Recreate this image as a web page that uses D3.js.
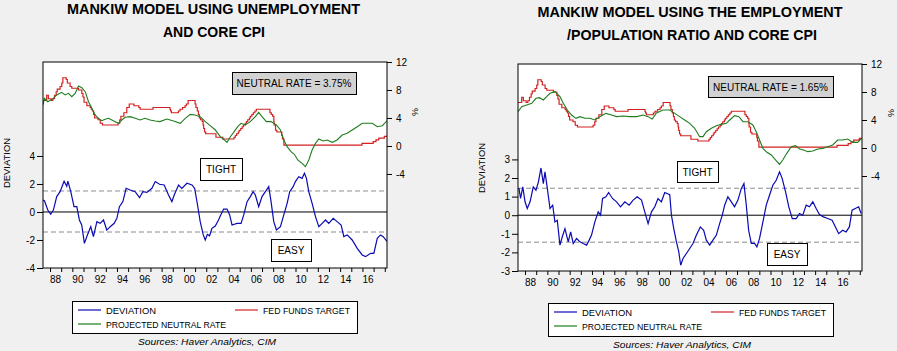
<!DOCTYPE html>
<html>
<head>
<meta charset="utf-8">
<script src="https://cdn.jsdelivr.net/npm/d3@7"></script>
<style>
  body { margin: 0; background: #f0f0f0; }
  svg { display: block; font-family: "Liberation Sans", Arial, sans-serif; }
  .axis text { font-size: 10px; fill: #000; }
  .axis line { stroke: #000; }
</style>
</head>
<body>
<svg id="chart" width="897" height="351"></svg>
<script>
// ---- data (decimal year, value) ----
const xDomain = [1987.37, 2018.2];
const yearTicks = d3.range(1988, 2019);
const xLabelYears = d3.range(1988, 2017, 2);
const xTickLabels = ["88", "90", "92", "94", "96", "98", "00", "02", "04", "06", "08", "10", "12", "14", "16"];
const rateTicks = [-4, 0, 4, 8, 12];
const devTicksUnemp = [-4, -2, 0, 2, 4];
const devTicksEpop = [-3, -2, -1, 0, 1, 2, 3];
const seriesNames = ["DEVIATION", "FED FUNDS TARGET", "PROJECTED NEUTRAL RATE"];

// fed funds target: change dates and the new level
const fedFunds = [
  [1987.37, 6.5], [1987.7, 7.25], [1987.85, 6.75], [1988.1, 6.5], [1988.25, 6.75],
  [1988.4, 7.25], [1988.55, 7.75], [1988.65, 8.125], [1988.9, 8.5], [1989.05, 9.0],
  [1989.15, 9.75], [1989.45, 9.5], [1989.55, 9.0], [1989.8, 8.5], [1989.95, 8.25],
  [1990.55, 8.0], [1990.85, 7.5], [1990.95, 7.0], [1991.05, 6.25], [1991.3, 5.75],
  [1991.6, 5.5], [1991.7, 5.25], [1991.8, 5.0], [1991.9, 4.5], [1992.0, 4.0],
  [1992.3, 3.75], [1992.5, 3.25], [1992.7, 3.0], [1994.1, 3.25], [1994.25, 3.75],
  [1994.35, 4.25], [1994.62, 4.75], [1994.88, 5.5], [1995.1, 6.0], [1995.52, 5.75],
  [1995.96, 5.5], [1996.08, 5.25], [1997.23, 5.5], [1998.75, 5.25], [1998.8, 5.0],
  [1998.88, 4.75], [1999.5, 5.0], [1999.65, 5.25], [1999.88, 5.5], [2000.1, 5.75],
  [2000.22, 6.0], [2000.38, 6.5], [2001.0, 6.0], [2001.08, 5.5], [2001.2, 5.0],
  [2001.3, 4.5], [2001.38, 4.0], [2001.49, 3.75], [2001.64, 3.5], [2001.72, 3.0],
  [2001.77, 2.5], [2001.85, 2.0], [2001.95, 1.75], [2002.87, 1.25], [2003.49, 1.0],
  [2004.49, 1.25], [2004.61, 1.5], [2004.72, 1.75], [2004.87, 2.0], [2004.95, 2.25],
  [2005.09, 2.5], [2005.22, 2.75], [2005.34, 3.0], [2005.49, 3.25], [2005.61, 3.5],
  [2005.72, 3.75], [2005.87, 4.0], [2005.95, 4.25], [2006.09, 4.5], [2006.22, 4.75],
  [2006.36, 5.0], [2006.49, 5.25], [2007.71, 4.75], [2007.83, 4.5], [2007.95, 4.25],
  [2008.06, 3.5], [2008.08, 3.0], [2008.21, 2.25], [2008.33, 2.0], [2008.77, 1.5],
  [2008.83, 1.0], [2008.96, 0.125], [2015.96, 0.375], [2016.96, 0.625], [2017.21, 0.875],
  [2017.46, 1.125], [2017.96, 1.375], [2018.2, 1.375],
];

const neutralUnemp = [
  [1987.37, 5.86], [1987.5, 6.8], [1987.8, 6.33], [1988.3, 6.8], [1988.6, 7.3],
  [1989.05, 7.67], [1989.35, 7.3], [1989.65, 7.52], [1989.95, 7.05], [1990.25, 7.52],
  [1990.55, 8.57], [1990.85, 8.33], [1991.15, 7.76], [1991.45, 6.33], [1991.75, 5.38],
  [1992.04, 4.43], [1992.34, 3.95], [1992.64, 3.62], [1992.94, 3.81], [1993.24, 3.95],
  [1993.54, 3.71], [1993.84, 3.48], [1994.13, 3.24], [1994.43, 3.71], [1994.73, 4.1],
  [1995.18, 4.19], [1995.63, 3.95], [1996.08, 3.71], [1996.5, 3.95], [1996.97, 3.71],
  [1997.43, 3.57], [1997.85, 3.48], [1998.47, 3.86], [1999.07, 3.57], [1999.67, 3.24],
  [2000.12, 3.95], [2000.57, 4.52], [2001.0, 4.43], [2001.46, 4.19], [2001.91, 3.48],
  [2002.36, 2.9], [2002.81, 2.29], [2003.26, 1.33], [2003.6, 0.9], [2003.86, 0.52],
  [2004.16, 1.33], [2004.46, 1.95], [2004.82, 2.76], [2005.12, 3.24], [2005.5, 3.0],
  [2005.95, 3.48], [2006.4, 4.19], [2006.7, 4.81], [2007.0, 4.19], [2007.39, 3.48],
  [2007.81, 3.48], [2008.29, 3.0], [2008.65, 2.29], [2008.95, 0.86], [2009.25, -0.1],
  [2009.6, -0.81], [2009.9, -1.19], [2010.2, -2.0], [2010.59, -2.48], [2010.89, -2.95],
  [2011.19, -2.0], [2011.49, -0.57], [2011.79, 0.38], [2012.09, 1.0], [2012.48, 0.71],
  [2012.84, 0.86], [2013.29, 0.52], [2013.73, 0.86], [2014.18, 1.57], [2014.63, 1.81],
  [2015.08, 2.29], [2015.53, 2.76], [2015.98, 3.24], [2016.43, 3.24], [2016.88, 3.24],
  [2017.33, 2.76], [2017.78, 2.9], [2018.2, 3.6],
];

const devUnemp = [
  [1987.37, 0.86], [1987.5, 0.8], [1987.8, 0.14], [1988.06, -0.16], [1988.3, 0.14],
  [1988.6, 1.1], [1988.9, 1.45], [1989.26, 2.2], [1989.5, 1.83], [1989.6, 2.2],
  [1989.86, 1.45], [1990.15, 0.38], [1990.4, 0.38], [1990.63, -0.57], [1990.84, -0.93],
  [1991.08, -2.24], [1991.35, -1.64], [1991.65, -1.05], [1991.89, -1.76], [1992.2, -0.69],
  [1992.49, -0.81], [1992.79, -0.57], [1993.09, -1.29], [1993.39, -1.05], [1993.75, -0.81],
  [1993.99, -0.45], [1994.22, 0.38], [1994.53, 0.74], [1994.82, 1.69], [1995.18, 1.57],
  [1995.63, 1.45], [1996.02, 1.02], [1996.32, 1.45], [1996.68, 1.4], [1997.13, 1.69],
  [1997.43, 2.17], [1997.81, 1.98], [1998.23, 1.93], [1998.62, 1.21], [1998.92, 0.74],
  [1999.13, 1.21], [1999.52, 1.93], [1999.82, 1.69], [2000.27, 2.05], [2000.72, 1.93],
  [2000.96, 1.69], [2001.22, 0.5], [2001.46, -0.69], [2001.72, -1.6], [2001.91, -2.0],
  [2002.1, -1.6], [2002.3, -1.7], [2002.51, -1.17], [2002.81, -1.0], [2003.1, -0.57],
  [2003.3, -0.21], [2003.56, 0.21], [2003.86, 0.21], [2004.1, -0.21], [2004.31, -0.93],
  [2004.76, -0.81], [2005.12, -0.81], [2005.36, -0.21], [2005.66, 0.74], [2005.95, 1.1],
  [2006.2, 1.45], [2006.4, 1.21], [2006.7, 0.38], [2007.0, 1.1], [2007.3, 1.45],
  [2007.6, 1.81], [2007.81, 0.74], [2008.05, -0.69], [2008.29, -1.29], [2008.65, -1.05],
  [2008.95, -0.21], [2009.25, 0.62], [2009.48, 1.45], [2009.79, 1.81], [2009.99, 2.17],
  [2010.29, 2.52], [2010.59, 2.4], [2010.8, 2.76], [2010.98, 2.4], [2011.19, 1.45],
  [2011.49, 0.62], [2011.79, -0.33], [2012.09, -1.05], [2012.39, -0.81], [2012.69, -0.57],
  [2012.98, -0.81], [2013.38, -0.45], [2013.73, -0.69], [2014.09, -0.93], [2014.33, -1.76],
  [2014.63, -1.64], [2015.08, -2.0], [2015.53, -2.6], [2015.98, -3.07], [2016.28, -3.19],
  [2016.73, -2.95], [2017.02, -2.95], [2017.33, -1.88], [2017.62, -1.64], [2017.86, -1.76],
  [2018.2, -2.1],
];

const neutralEpop = [
  [1987.37, 5.19], [1987.7, 5.9], [1988.15, 6.14], [1988.6, 6.38], [1988.98, 7.1],
  [1989.28, 7.19], [1989.64, 6.86], [1989.94, 7.33], [1990.24, 7.81], [1990.68, 8.05],
  [1991.13, 7.33], [1991.43, 6.38], [1991.79, 5.43], [1992.18, 4.71], [1992.56, 4.24],
  [1992.92, 4.48], [1993.37, 4.24], [1993.81, 4.24], [1994.26, 4.0], [1994.71, 4.48],
  [1995.25, 4.95], [1995.75, 4.71], [1996.2, 4.48], [1996.79, 4.57], [1997.39, 4.48],
  [1997.99, 4.48], [1998.58, 4.71], [1999.03, 4.48], [1999.4, 4.14], [1999.78, 5.0],
  [2000.37, 5.43], [2000.97, 5.43], [2001.42, 4.95], [2001.86, 4.48], [2002.31, 4.0],
  [2002.76, 3.52], [2003.2, 2.81], [2003.65, 1.62], [2003.95, 1.62], [2004.25, 2.33],
  [2004.7, 2.81], [2005.15, 3.19], [2005.6, 3.38], [2006.04, 3.52], [2006.34, 4.0],
  [2006.78, 4.62], [2007.17, 4.48], [2007.53, 3.76], [2007.97, 3.76], [2008.42, 3.29],
  [2008.72, 2.33], [2009.02, 1.14], [2009.32, -0.05], [2009.68, -0.62], [2010.07, -1.0],
  [2010.45, -1.71], [2010.81, -2.33], [2011.1, -1.71], [2011.46, -0.76], [2011.86, 0.19],
  [2012.24, 0.33], [2012.6, -0.14], [2012.96, -0.29], [2013.34, -0.52], [2013.79, -0.43],
  [2014.24, -0.14], [2014.68, -0.05], [2015.13, 0.19], [2015.58, 0.43], [2016.02, 1.14],
  [2016.47, 1.14], [2016.92, 1.29], [2017.37, 0.81], [2017.81, 0.81], [2018.12, 1.29],
];

const devEpop = [
  [1987.37, 1.43], [1987.46, 1.43], [1987.6, 0.9], [1987.8, 1.52], [1988.0, 0.72],
  [1988.2, 0.36], [1988.45, 0.72], [1988.74, 1.52], [1988.98, 1.34], [1989.2, 1.79],
  [1989.43, 2.54], [1989.64, 1.7], [1989.79, 2.33], [1990.0, 1.43], [1990.24, 0.36],
  [1990.48, 0.54], [1990.68, -0.36], [1990.89, -0.27], [1991.13, -1.61], [1991.34, -1.16],
  [1991.58, -0.72], [1991.87, -1.43], [1992.09, -0.9], [1992.32, -1.52], [1992.62, -1.25],
  [1992.92, -1.43], [1993.21, -1.52], [1993.52, -1.61], [1993.75, -1.34], [1993.96, -1.07],
  [1994.26, -0.36], [1994.56, 0.18], [1994.77, 0], [1994.95, 0.9], [1995.25, 0.99],
  [1995.49, 1.22], [1995.84, 0.9], [1996.2, 0.72], [1996.56, 0.45], [1996.95, 0.72],
  [1997.33, 0.54], [1997.69, 0.81], [1998.05, 0.99], [1998.44, 0.81], [1998.73, 0.18],
  [1999.03, -0.45], [1999.33, 0.18], [1999.63, 0.45], [1999.92, 0.9], [2000.22, 0.72],
  [2000.52, 1.22], [2000.97, 1.1], [2001.12, 0], [2001.33, -0.72], [2001.57, -1.43],
  [2001.78, -1.97], [2001.95, -2.69], [2002.16, -2.33], [2002.46, -2.06], [2002.76, -1.79],
  [2003.05, -1.52], [2003.36, -1.07], [2003.71, -0.63], [2004.01, -0.81], [2004.25, -1.34],
  [2004.55, -1.61], [2004.84, -1.34], [2005.15, -1.07], [2005.44, -0.45], [2005.68, 0],
  [2005.89, 0.54], [2006.18, 0.99], [2006.49, 0.72], [2006.78, 0.45], [2007.08, 0.81],
  [2007.38, 1.43], [2007.62, 1.7], [2007.83, 0.54], [2008.04, -0.81], [2008.28, -1.52],
  [2008.57, -1.52], [2008.78, -1.7], [2009.02, -1.25], [2009.32, -0.36], [2009.62, 0.54],
  [2009.91, 1.07], [2010.21, 1.61], [2010.51, 1.88], [2010.81, 2.33], [2011.05, 1.97],
  [2011.35, 1.25], [2011.64, 0.45], [2011.95, -0.18], [2012.3, -0.18], [2012.6, 0.09],
  [2012.89, 0], [2013.2, 0.54], [2013.49, 0.45], [2013.79, 0.72], [2014.09, 0.36],
  [2014.39, 0.04], [2014.74, -0.09], [2015.13, -0.18], [2015.52, -0.27], [2015.82, -0.63],
  [2016.11, -0.99], [2016.47, -0.81], [2016.77, -0.9], [2017.07, -0.63], [2017.31, 0.27],
  [2017.6, 0.36], [2017.9, 0.45], [2018.12, 0.09],
];

const colors = { dev: "#0a0ab4", fed: "#d42020", neutral: "#1e7d1e" };

const panels = [
  {
    titles: [
      { text: "MANKIW MODEL USING UNEMPLOYMENT", cx: 213.5, y: 14, w: 293 },
      { text: "AND CORE CPI", cx: 214, y: 37, w: 102 },
    ],
    left: 43, right: 387, top: 62, bottom: 268,
    devDomain: [-4, 10.71], rateDomain: [-17.43, 12],
    devTicks: devTicksUnemp, band: [1.5, -1.43],
    dev: devUnemp, neutral: neutralUnemp,
    neutralText: "NEUTRAL RATE = 3.75%",
    neutralBox: [232, 72, 124, 22],
    tightBox: [200, 158, 42, 22], easyBox: [271, 239, 40, 22],
    devLabel: [7, 163], pctLabel: [415, 112],
    labelY: 283, legend: [72, 301, 285, 32], sourceX: 207, sourceY: 345,
  },
  {
    titles: [
      { text: "MANKIW MODEL USING THE EMPLOYMENT", cx: 690, y: 17, w: 305 },
      { text: "/POPULATION RATIO AND CORE CPI", cx: 692, y: 40, w: 250 },
    ],
    left: 518, right: 862, top: 64, bottom: 271,
    devDomain: [-3, 8.13], rateDomain: [-17.57, 12],
    devTicks: devTicksEpop, band: [1.45, -1.45],
    dev: devEpop, neutral: neutralEpop,
    neutralText: "NEUTRAL RATE = 1.65%",
    neutralBox: [708, 76, 125, 21],
    tightBox: [677, 161, 41, 21], easyBox: [767, 243, 40, 22],
    devLabel: [482, 168], pctLabel: [891, 113],
    labelY: 286, legend: [548, 303, 285, 33], sourceX: 682, sourceY: 348,
  },
];

const svg = d3.select("#chart");
panels.forEach((cfg, i) => renderPanel(svg, cfg, i));

function renderPanel(svg, cfg, idx) {
  const x = d3.scaleLinear().domain(xDomain).range([cfg.left, cfg.right]);
  const yDev = d3.scaleLinear().domain(cfg.devDomain).range([cfg.bottom, cfg.top]);
  const yRate = d3.scaleLinear().domain(cfg.rateDomain).range([cfg.bottom, cfg.top]);
  const g = svg.append("g").attr("class", "panel");

  // titles
  g.selectAll(".title")
    .data(cfg.titles)
    .join("text")
    .attr("class", "title")
    .attr("x", (d) => d.cx)
    .attr("y", (d) => d.y)
    .attr("text-anchor", "middle")
    .attr("font-size", 14)
    .attr("font-weight", "bold")
    .attr("textLength", (d) => d.w)
    .attr("lengthAdjust", "spacingAndGlyphs")
    .text((d) => d.text);

  // plot background
  g.append("rect")
    .attr("x", cfg.left)
    .attr("y", cfg.top)
    .attr("width", cfg.right - cfg.left)
    .attr("height", cfg.bottom - cfg.top)
    .attr("fill", "#fff");

  const clipId = `clip-${idx}`;
  g.append("clipPath")
    .attr("id", clipId)
    .append("rect")
    .attr("x", cfg.left)
    .attr("y", cfg.top)
    .attr("width", cfg.right - cfg.left)
    .attr("height", cfg.bottom - cfg.top);
  const plot = g.append("g").attr("clip-path", `url(#${clipId})`);

  // band lines and zero line
  plot.selectAll(".band")
    .data(cfg.band)
    .join("line")
    .attr("class", "band")
    .attr("x1", cfg.left)
    .attr("x2", cfg.right)
    .attr("y1", (d) => yDev(d))
    .attr("y2", (d) => yDev(d))
    .attr("stroke", "#8c8c8c")
    .attr("stroke-dasharray", "5,3");
  plot.append("line")
    .attr("x1", cfg.left)
    .attr("x2", cfg.right)
    .attr("y1", yDev(0))
    .attr("y2", yDev(0))
    .attr("stroke", "#000");

  const lineDev = d3.line().x((d) => x(d[0])).y((d) => yDev(d[1]));
  const lineRate = d3.line().x((d) => x(d[0])).y((d) => yRate(d[1]));
  const lineFed = d3.line().x((d) => x(d[0])).y((d) => yRate(d[1])).curve(d3.curveStepAfter);

  plot.append("path")
    .attr("d", lineFed(fedFunds))
    .attr("fill", "none")
    .attr("stroke", colors.fed)
    .attr("stroke-width", 1.2);
  plot.append("path")
    .attr("d", lineRate(cfg.neutral))
    .attr("fill", "none")
    .attr("stroke", colors.neutral)
    .attr("stroke-width", 1.1);
  plot.append("path")
    .attr("d", lineDev(cfg.dev))
    .attr("fill", "none")
    .attr("stroke", colors.dev)
    .attr("stroke-width", 1.2);

  // frame
  g.append("rect")
    .attr("x", cfg.left)
    .attr("y", cfg.top)
    .attr("width", cfg.right - cfg.left)
    .attr("height", cfg.bottom - cfg.top)
    .attr("fill", "none")
    .attr("stroke", "#000");

  // axes
  g.append("g")
    .attr("class", "axis")
    .attr("transform", `translate(${cfg.left},0)`)
    .call(d3.axisLeft(yDev).tickValues(cfg.devTicks).tickSize(6).tickPadding(2).tickFormat((d) => String(d)))
    .call((a) => a.select(".domain").remove());
  g.append("g")
    .attr("class", "axis")
    .attr("transform", `translate(${cfg.right},0)`)
    .call(d3.axisRight(yRate).tickValues(rateTicks).tickSize(5).tickPadding(4).tickFormat((d) => String(d)))
    .call((a) => a.select(".domain").remove());
  g.append("g")
    .attr("class", "axis")
    .attr("transform", `translate(0,${cfg.bottom})`)
    .call(d3.axisBottom(x).tickValues(yearTicks).tickSize(4).tickFormat(""))
    .call((a) => a.select(".domain").remove());
  g.selectAll(".xlabel")
    .data(xLabelYears)
    .join("text")
    .attr("class", "xlabel")
    .attr("x", (d) => x(d + 0.5))
    .attr("y", cfg.labelY)
    .attr("text-anchor", "middle")
    .attr("font-size", 10)
    .text((d, i) => xTickLabels[i]);

  // axis titles
  g.append("text")
    .attr("transform", `translate(${cfg.devLabel[0] + 3},${cfg.devLabel[1]}) rotate(-90)`)
    .attr("text-anchor", "middle")
    .attr("font-size", 9.5)
    .attr("textLength", 50)
    .attr("lengthAdjust", "spacingAndGlyphs")
    .text("DEVIATION");
  g.append("text")
    .attr("transform", `translate(${cfg.pctLabel[0] - 3},${cfg.pctLabel[1]}) rotate(90)`)
    .attr("text-anchor", "middle")
    .attr("font-size", 9)
    .text("%");

  // annotation boxes
  const boxes = [
    { r: cfg.neutralBox, text: cfg.neutralText, fill: "#d2d2d2" },
    { r: cfg.tightBox, text: "TIGHT", fill: "#fff" },
    { r: cfg.easyBox, text: "EASY", fill: "#fff" },
  ];
  const box = g.selectAll(".note")
    .data(boxes)
    .join("g")
    .attr("class", "note");
  box.append("rect")
    .attr("x", (d) => d.r[0] + 0.5)
    .attr("y", (d) => d.r[1] + 0.5)
    .attr("width", (d) => d.r[2])
    .attr("height", (d) => d.r[3])
    .attr("fill", (d) => d.fill)
    .attr("stroke", "#000");
  box.append("text")
    .attr("x", (d) => d.r[0] + d.r[2] / 2)
    .attr("y", (d) => d.r[1] + d.r[3] / 2 + 4)
    .attr("text-anchor", "middle")
    .attr("font-size", 10)
    .text((d) => d.text);

  // legend
  const [lx, ly, lw, lh] = cfg.legend;
  g.append("rect")
    .attr("x", lx + 0.5)
    .attr("y", ly + 0.5)
    .attr("width", lw)
    .attr("height", lh)
    .attr("fill", "#fff")
    .attr("stroke", "#000");
  const items = [
    { name: seriesNames[0], color: colors.dev, dx: 6, dy: 9, w: 50 },
    { name: seriesNames[1], color: colors.fed, dx: 163, dy: 9, w: 87 },
    { name: seriesNames[2], color: colors.neutral, dx: 6, dy: 23, w: 120 },
  ];
  const item = g.selectAll(".legend-item")
    .data(items)
    .join("g")
    .attr("class", "legend-item")
    .attr("transform", (d) => `translate(${lx + d.dx},${ly + d.dy})`);
  item.append("line")
    .attr("x1", 0)
    .attr("x2", 23)
    .attr("stroke", (d) => d.color)
    .attr("stroke-width", 1.2);
  item.append("text")
    .attr("x", 28)
    .attr("y", 3.5)
    .attr("font-size", 9.5)
    .attr("textLength", (d) => d.w)
    .attr("lengthAdjust", "spacingAndGlyphs")
    .text((d) => d.name);

  // source
  g.append("text")
    .attr("x", cfg.sourceX)
    .attr("y", cfg.sourceY)
    .attr("text-anchor", "middle")
    .attr("font-size", 9.5)
    .attr("font-style", "italic")
    .attr("textLength", 138)
    .attr("lengthAdjust", "spacingAndGlyphs")
    .text("Sources:  Haver Analytics, CIM");
}
</script>
</body>
</html>
